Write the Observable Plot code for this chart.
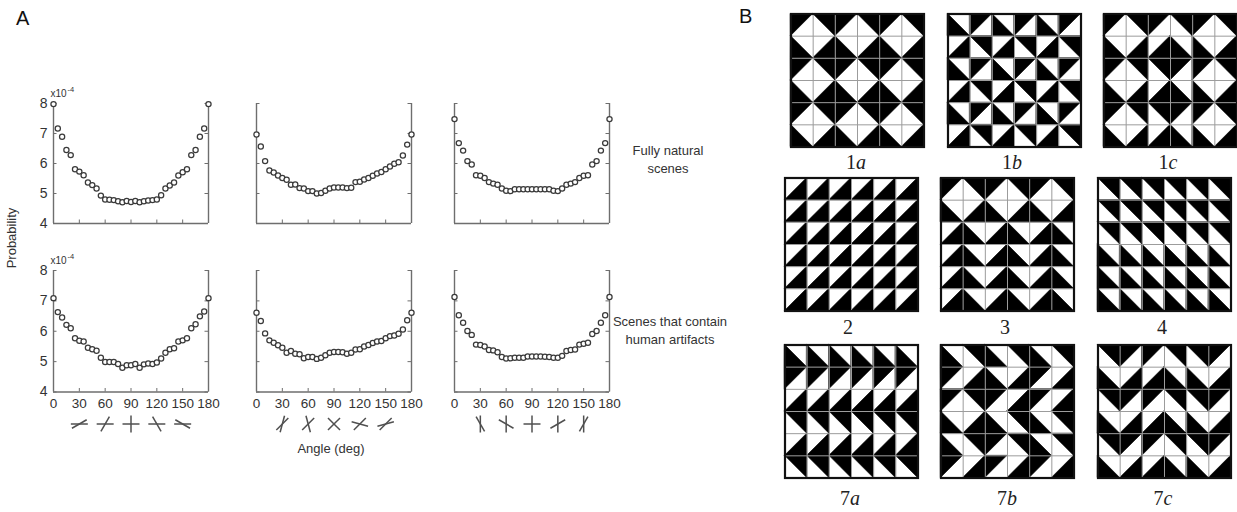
<!DOCTYPE html>
<html><head><meta charset="utf-8">
<script src="https://cdn.jsdelivr.net/npm/d3@7"></script>
<script src="https://cdn.jsdelivr.net/npm/@observablehq/plot@0.6"></script>
<style>
body{margin:0;background:#fff;}
#root{position:relative;width:1237px;height:512px;background:#fff;overflow:hidden;font-family:"Liberation Sans",Arial,sans-serif;color:#333;}
.wrap{position:absolute;}
.txt{position:absolute;font-size:13px;line-height:18px;color:#333;text-align:center;transform:translate(-50%,-50%);white-space:nowrap;}
.pl{position:absolute;font-family:"Liberation Serif","DejaVu Serif",serif;font-size:20px;color:#222;transform:translate(-50%,-50%);white-space:nowrap;}
.big{position:absolute;font-size:20px;color:#111;}
</style></head><body><div id="root"></div>
<script>
// ---------- data ----------
const anglesDeg = [0,5,10,15,20,25,30,35,40,45,50,55,60,65,70,75,80,85,90,95,100,105,110,115,120,125,130,135,140,145,150,155,160,165,170,175,180];
// fully natural scenes (x1e-4)
const natRefH = [7.98,7.17,6.89,6.45,6.28,5.81,5.73,5.61,5.37,5.28,5.17,4.93,4.80,4.79,4.78,4.74,4.71,4.75,4.72,4.75,4.71,4.74,4.77,4.78,4.80,4.94,5.17,5.27,5.37,5.60,5.71,5.81,6.28,6.45,6.89,7.17,7.98];
const natRefD = [6.97,6.57,6.08,5.77,5.70,5.60,5.52,5.46,5.29,5.30,5.18,5.17,5.08,5.08,5.00,5.02,5.09,5.17,5.20,5.20,5.20,5.18,5.19,5.38,5.39,5.47,5.52,5.59,5.67,5.72,5.81,5.90,5.99,6.04,6.27,6.63,6.97];
const natRefV = [7.48,6.68,6.43,6.08,5.97,5.61,5.59,5.52,5.38,5.33,5.29,5.17,5.09,5.08,5.14,5.14,5.14,5.14,5.14,5.14,5.14,5.14,5.14,5.09,5.08,5.17,5.29,5.33,5.38,5.52,5.59,5.61,5.97,6.08,6.43,6.68,7.48];
// scenes that contain human artifacts (x1e-4)
const artRefH = [7.09,6.63,6.45,6.21,6.10,5.77,5.69,5.66,5.46,5.41,5.36,5.13,4.99,4.99,4.99,4.92,4.80,4.88,4.88,4.92,4.80,4.91,4.94,4.92,4.97,5.10,5.29,5.41,5.44,5.66,5.70,5.77,6.10,6.23,6.49,6.65,7.09];
const artRefD = [6.61,6.34,5.93,5.70,5.62,5.54,5.46,5.29,5.35,5.26,5.24,5.11,5.15,5.15,5.09,5.13,5.21,5.29,5.32,5.32,5.31,5.26,5.29,5.40,5.41,5.50,5.55,5.61,5.66,5.68,5.77,5.84,5.86,5.92,6.06,6.36,6.61];
const artRefV = [7.13,6.53,6.28,6.01,5.88,5.56,5.55,5.50,5.38,5.37,5.31,5.15,5.10,5.11,5.13,5.13,5.13,5.17,5.17,5.17,5.17,5.16,5.15,5.13,5.13,5.19,5.35,5.38,5.40,5.56,5.59,5.62,5.91,6.01,6.28,6.53,7.13];

const xTickLabels = [0,30,60,90,120,150,180];
const yTickLabels = [4,5,6,7,8];
const glyphAngles = [30,60,90,120,150];
const glyphRefs = [0,45,90];
const rowLabels = [["Fully natural","scenes"],["Scenes that contain","human artifacts"]];

// tilings: black half of each cell (TL, TR, BL, BR)
const pattern1a = ["TL TR TL TR TL TR","BL BR BL BR BL BR","TL TR TL TR TL TR","BL BR BL BR BL BR","TL TR TL TR TL TR","BL BR BL BR BL BR"];
const pattern1b = ["BL TL BL TL BL TL","BR TR BR TR BR TR","BL TL BL TL BL TL","BR TR BR TR BR TR","BL TL BL TL BL TL","BR TR BR TR BR TR"];
const pattern1c = ["TL TR TL TR TL TR","BL BR BR BL BL BR","TL TR TR TL TL TR","BL BR BR BL BL BR","TL TR TR TL TL TR","BL BR BR BL BL BR"];
const pattern2  = ["BR BR BR BR BR BR","BR BR BR BR BR BR","BR BR BR BR BR BR","BR BR BR BR BR BR","BR BR BR BR BR BR","BR BR BR BR BR BR"];
const pattern3  = ["TL TR TL TR TL TR","BL BR BL BR BL BR","BR BL BR BL BR BL","BR BL BR BL BR BL","BR BL BR BL BR BL","BR BL BR BL BR BL"];
const pattern4  = ["TR TR TR TR TR TR","TR TR TR TR TR TR","TR TR TR TR TR TR","BL BL BL BL BL BL","BL BL BL BL BL BL","BL BL BL BL BL BL"];
const pattern7a = ["BL BL BL BL BL BL","TL TL TL TL TL TL","BR BR BR BR BR BR","TR TR TR TR TR TR","BR BR BR BR BR BR","TR TR TR TR TR TR"];
const pattern7b = ["BL TR BL TR BL TR","TL BR BL BR TL BR","TL TR TL BR TL BR","BL BR BL TR BL TR","BL TR TL TR BL TR","TL BR TL BR TL BR"];
const pattern7c = ["TR TL TL TR TR TL","BL BR BR BL BL BR","TR TL TL TR TR TL","BL BR BR BL BL BR","TR TL TL TR TR TL","BL BR BR BL BL BR"];
const patternNames = [["1","a"],["1","b"],["1","c"],["2",""],["3",""],["4",""],["7","a"],["7","b"],["7","c"]];

// ---------- layout ----------
const root = document.getElementById("root");
function addDiv(cls, html, left, top, extra) {
  const d = document.createElement("div");
  d.className = cls; d.innerHTML = html;
  d.style.left = left + "px"; d.style.top = top + "px";
  if (extra) Object.assign(d.style, extra);
  root.appendChild(d); return d;
}
function place(svg, left, top, w, h) {
  const d = document.createElement("div");
  d.className = "wrap";
  Object.assign(d.style, {left: left + "px", top: top + "px", width: w + "px", height: h + "px"});
  d.appendChild(svg); root.appendChild(d);
}

const axisColor = "#6e6e6e";
const colX0 = [52.5, 255.7, 454];
const innerW = 155;
const rowsY = [{y8: 103, y4: 223, mB: 10}, {y8: 269.5, y4: 391, mB: 50}];
const series = [[natRefH, natRefD, natRefV], [artRefH, artRefD, artRefV]];

function glyphLinks(ref, kx, ky, yc) {
  const half = 8.5, out = [];
  for (const t of glyphAngles) for (const a of [ref, ref + t]) {
    const rad = a * Math.PI / 180;
    const dx = half * Math.cos(rad) / kx, dy = half * Math.sin(rad) / ky;
    out.push({x1: t - dx, x2: t + dx, y1: yc - dy, y2: yc + dy});
  }
  return out;
}

for (let ri = 0; ri < 2; ri++) for (let ci = 0; ci < 3; ci++) {
  const R = rowsY[ri];
  const mL = 45, mR = 20, mT = 22, mB = R.mB;
  const ih = R.y4 - R.y8;
  const w = mL + innerW + mR, h = mT + ih + mB;
  const kx = innerW / 180, ky = ih / 4;
  const vals = series[ri][ci];
  const data = anglesDeg.map((a, i) => ({a, v: vals[i]}));
  const marks = [
    Plot.ruleX([0, 180], {y1: 4, y2: 8, stroke: axisColor, strokeWidth: 1.4}),
    Plot.ruleY([4], {x1: 0, x2: 180, stroke: axisColor, strokeWidth: 1.4}),
    Plot.ruleX(xTickLabels, {x: d => d, y1: 4, y2: 4 + 3.5 / ky, stroke: axisColor, strokeWidth: 1}),
    Plot.ruleY(yTickLabels, {y: d => d, x1: 0, x2: 3.5 / kx, stroke: axisColor, strokeWidth: 1}),
    Plot.ruleY(yTickLabels, {y: d => d, x1: 180 - 3.5 / kx, x2: 180, stroke: axisColor, strokeWidth: 1}),
    Plot.dot(data, {x: "a", y: "v", r: 2.6, stroke: "#3a3a3a", strokeWidth: 1.25, fill: "white"})
  ];
  if (ci === 0) {
    marks.push(Plot.text(yTickLabels, {x: 0, y: d => d, text: d => String(d), dx: -6, textAnchor: "end", fontSize: 14, fill: "#333"}));
    marks.push(Plot.text(["x10"], {x: 0, y: 8, text: d => d, dx: -3, dy: -10, textAnchor: "start", fontSize: 10, fill: "#333"}));
    marks.push(Plot.text(["-4"], {x: 0, y: 8, text: d => d, dx: 14, dy: -14, textAnchor: "start", fontSize: 7.5, fill: "#333"}));
  }
  if (ri === 1) {
    marks.push(Plot.text(xTickLabels, {x: d => d, y: 4, text: d => String(d), dy: 12, fontSize: 13.5, fill: "#333"}));
    const yc = 4 - 32 / ky;
    marks.push(Plot.link(glyphLinks(glyphRefs[ci], kx, ky, yc), {x1: "x1", y1: "y1", x2: "x2", y2: "y2", stroke: "#505050", strokeWidth: 1.5}));
  }
  const svg = Plot.plot({
    width: w, height: h, marginLeft: mL, marginRight: mR, marginTop: mT, marginBottom: mB,
    x: {domain: [0, 180], axis: null}, y: {domain: [4, 8], axis: null},
    style: "background:transparent;overflow:visible;max-width:none;font-family:'Liberation Sans',Arial,sans-serif;",
    marks
  });
  place(svg, colX0[ci] - mL, R.y8 - mT, w, h);
}

// panel A texts
addDiv("big", "A", 16, 7);
addDiv("big", "B", 739, 5);
addDiv("txt", "Probability", 12, 238, {transform: "translate(-50%,-50%) rotate(-90deg)"});
addDiv("txt", "Angle (deg)", 331, 449);
addDiv("txt", rowLabels[0].join("<br>"), 668, 160);
addDiv("txt", rowLabels[1].join("<br>"), 670, 331);

// ---------- panel B tilings ----------
function triPoints(type, r, c) {
  switch (type) {
    case "TL": return [{x: c, y1: r, y2: r + 1}, {x: c + 1, y1: r, y2: r}];
    case "TR": return [{x: c, y1: r, y2: r}, {x: c + 1, y1: r, y2: r + 1}];
    case "BL": return [{x: c, y1: r, y2: r + 1}, {x: c + 1, y1: r + 1, y2: r + 1}];
    default:   return [{x: c, y1: r + 1, y2: r + 1}, {x: c + 1, y1: r, y2: r + 1}];
  }
}
const patterns = [pattern1a, pattern1b, pattern1c, pattern2, pattern3, pattern4, pattern7a, pattern7b, pattern7c];
const tileLeft = [[789, 946, 1102], [783, 939, 1096], [783, 939, 1096]];
const tileTop = [12, 176, 343];
const labelX = [[856, 1012, 1168], [848, 1005, 1162], [850, 1007, 1163]];
const labelY = [162, 327, 498];
const S = 136;
patterns.forEach((pat, k) => {
  const row = Math.floor(k / 3), col = k % 3;
  const pts = [];
  pat.forEach((line, r) => line.split(" ").forEach((t, c) => {
    triPoints(t, r, c).forEach(p => pts.push({...p, id: r * 6 + c}));
  }));
  const svg = Plot.plot({
    width: S, height: S, margin: 1.5,
    x: {domain: [0, 6], axis: null},
    y: {domain: [0, 6], range: [1.5, S - 1.5], axis: null},
    style: "background:white;overflow:visible;max-width:none;",
    marks: [
      Plot.areaY(pts, {x: "x", y1: "y1", y2: "y2", z: "id", fill: "#000", stroke: "#000", strokeWidth: 0.6, curve: "linear"}),
      Plot.ruleX([1, 2, 3, 4, 5], {stroke: "#9c9c9c", strokeWidth: 1}),
      Plot.ruleY([1, 2, 3, 4, 5], {stroke: "#9c9c9c", strokeWidth: 1}),
      Plot.frame({stroke: "#111", strokeWidth: 2.2})
    ]
  });
  place(svg, tileLeft[row][col], tileTop[row], S, S);
  const nm = patternNames[k];
  addDiv("pl", nm[0] + (nm[1] ? "<i>" + nm[1] + "</i>" : ""), labelX[row][col], labelY[row]);
});
</script></body></html>
